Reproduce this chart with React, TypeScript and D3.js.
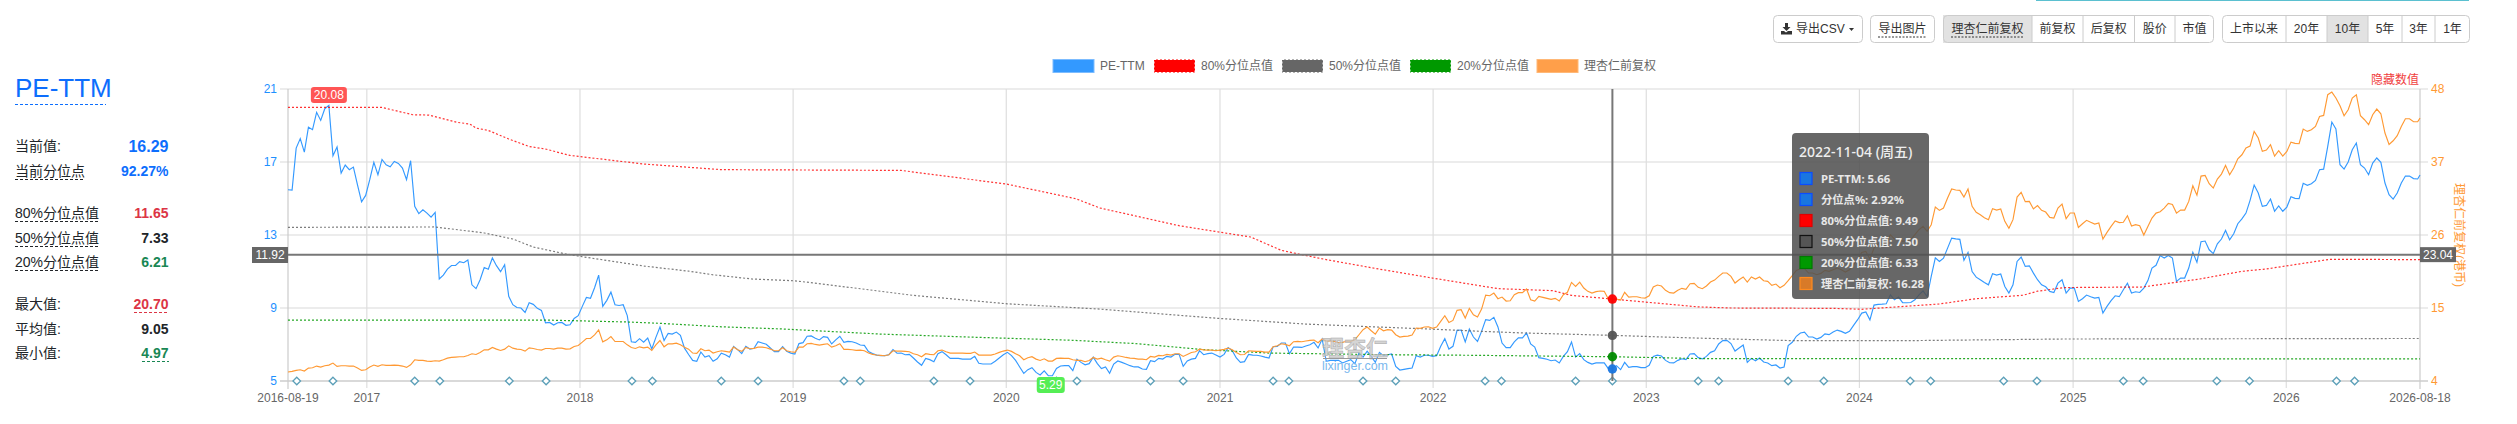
import React from 'react';
import * as d3 from 'd3';

// weekly samples, week 0 is 2016-08-19, last one is clamped to 2026-08-18
const peTtm = [
  15.48,15.46,17.76,18.28,17.54,18.91,18.77,19.72,19.28,19.92,
  20.10,17.34,17.82,16.39,16.83,16.58,16.72,15.75,14.82,15.17,
  16.03,16.98,16.30,17.14,16.85,16.74,17.03,16.92,16.67,16.03,
  17.07,14.57,14.17,14.38,14.20,13.98,14.24,10.59,10.80,11.13,
  11.33,11.33,11.54,11.48,11.63,10.27,10.06,10.55,11.22,11.12,
  11.74,11.32,10.99,11.37,9.64,9.18,9.03,9.00,8.76,9.29,
  9.20,8.98,8.87,8.19,8.21,8.07,8.19,8.21,8.05,8.08,
  8.43,8.58,9.09,9.58,9.53,10.11,10.80,9.09,9.42,9.87,
  9.18,9.14,9.18,8.58,7.15,7.12,7.32,7.13,7.35,6.75,
  7.39,7.96,7.22,7.61,7.57,7.68,7.50,6.80,6.45,
  6.13,6.08,6.59,6.31,6.39,6.08,6.22,6.52,6.44,6.31,
  6.90,6.72,6.50,6.90,6.75,6.79,7.15,7.08,7.01,6.81,
  6.61,6.61,6.88,6.63,6.53,6.48,7.05,7.10,7.45,7.47,
  7.34,7.25,7.43,7.39,7.03,7.25,7.45,7.12,7.17,7.15,
  7.08,6.97,6.95,6.61,6.50,6.42,6.39,6.39,6.44,6.72,
  6.52,6.53,6.44,6.46,6.26,6.04,5.86,6.24,6.17,6.06,
  6.50,6.61,6.44,6.24,6.24,6.24,6.20,6.20,6.20,6.35,
  5.97,5.93,5.93,5.93,6.08,6.26,6.44,6.57,6.39,6.13,
  5.77,5.42,5.62,5.73,5.47,5.33,5.55,5.29,5.29,5.69,
  5.82,5.84,5.84,5.57,6.20,
  6.02,5.89,5.95,6.31,5.95,5.68,5.77,5.42,5.93,6.10,
  6.02,5.93,5.84,5.77,5.77,5.66,5.64,6.11,6.06,6.24,
  6.20,6.35,6.31,6.46,6.46,5.80,6.10,6.20,6.24,6.66,
  6.44,6.50,6.53,6.42,6.31,6.46,6.83,6.66,6.26,6.02,
  6.06,6.46,6.42,6.41,6.37,6.31,6.26,6.88,6.90,7.08,
  7.08,6.50,6.86,6.86,6.84,6.92,6.99,7.12,6.81,7.30,
  6.08,6.13,6.13,6.13,5.99,6.08,6.17,5.95,6.53,6.31,
  6.63,6.35,6.02,6.57,6.39,6.44,6.48,5.80,5.60,5.64,
  5.68,5.71,6.39,6.31,6.41,6.41,6.35,6.39,6.90,7.32,
  6.75,6.90,7.78,7.79,7.14,7.85,
  7.41,7.17,7.72,8.36,8.32,8.49,7.96,7.08,6.83,6.83,
  7.14,7.36,7.36,7.63,7.03,6.86,6.28,6.24,6.19,6.11,
  6.15,5.99,6.35,6.61,7.14,6.31,6.50,6.17,6.02,5.93,
  5.99,6.00,5.99,5.68,5.66,5.84,5.62,6.02,5.75,5.79,
  5.79,5.73,5.73,5.86,6.35,6.42,6.37,6.13,6.00,5.99,
  6.13,6.22,6.17,6.48,6.50,6.28,6.21,6.35,6.57,6.66,
  7.03,7.21,7.23,7.05,6.64,6.81,6.97,6.02,6.24,6.11,
  6.26,6.04,5.99,5.84,5.88,5.71,5.77,6.94,7.12,7.45,
  7.63,7.68,7.41,7.41,7.30,7.39,7.58,7.54,7.68,7.79,
  7.72,7.61,7.72,8.05,8.36,
  8.72,8.78,8.35,9.16,9.20,9.21,9.23,9.72,9.45,9.60,
  9.29,9.29,9.30,9.45,9.72,9.94,9.63,10.73,11.75,11.55,
  11.73,12.28,12.83,12.79,12.76,11.61,12.04,11.00,10.69,10.55,
  10.40,10.27,10.88,10.80,10.86,10.18,9.82,10.27,11.55,11.79,
  11.28,11.31,10.91,10.55,10.27,10.16,9.91,9.85,10.36,10.55,
  9.82,10.09,10.09,9.36,9.51,9.71,9.62,9.54,9.58,8.72,
  9.09,9.40,9.67,9.62,10.00,10.36,9.82,9.89,9.85,10.09,
  10.50,
  11.19,11.34,11.87,11.74,11.88,11.74,10.46,10.64,10.64,11.19,
  12.05,11.50,12.63,12.67,12.19,11.98,12.52,12.78,13.25,12.74,
  13.07,13.62,13.88,14.20,14.90,15.74,15.30,14.57,14.62,14.97,
  14.30,14.59,14.30,14.53,15.10,15.01,14.99,15.83,15.72,15.81,
  15.99,16.58,16.61,17.86,19.19,18.81,16.85,16.61,17.00,17.67,
  18.04,16.85,16.67,16.30,16.94,17.22,16.98,15.85,15.21,14.97,
  15.30,15.85,16.23,16.23,16.09,16.07,16.29,
];

const lxrPrice = [
  5.35,5.45,5.60,5.70,5.50,5.95,6.00,6.25,6.10,6.30,
  6.40,6.70,6.20,6.30,6.30,6.25,6.25,5.95,5.60,5.70,
  6.10,6.40,6.20,6.45,6.35,6.35,6.40,6.35,6.25,6.05,
  6.45,7.20,7.10,7.10,7.00,6.95,7.05,7.00,7.20,7.45,
  7.55,7.60,7.65,7.65,7.85,8.10,8.00,8.30,8.70,8.70,
  9.05,8.80,8.60,8.80,9.30,8.95,8.80,8.75,8.50,9.00,
  8.90,8.75,8.65,8.90,8.90,8.80,8.95,8.95,8.80,8.85,
  9.20,9.35,9.85,10.40,10.40,10.95,11.70,9.90,10.20,10.70,
  9.95,9.95,9.95,9.45,9.05,8.90,9.15,9.00,9.10,8.60,
  9.45,10.10,9.15,9.60,9.60,9.70,9.45,9.10,8.80,
  8.21,8.16,8.86,8.56,8.66,8.21,8.41,8.56,8.46,8.36,
  9.11,8.71,8.46,9.06,8.86,8.91,9.11,9.11,9.01,8.81,
  8.56,8.56,9.01,8.56,8.41,8.31,9.11,9.11,9.61,9.66,
  9.51,9.41,9.51,9.61,9.11,9.31,9.61,8.76,8.76,8.71,
  8.61,8.66,8.56,8.21,8.01,7.91,7.86,7.81,7.96,8.56,
  8.51,8.51,8.46,8.41,8.11,7.96,7.66,8.11,8.01,7.96,
  8.56,8.66,8.41,8.21,8.21,8.21,8.21,8.16,8.16,8.36,
  7.91,7.91,7.91,7.91,8.06,8.31,8.51,8.66,8.46,8.11,
  7.81,7.21,7.50,7.66,7.30,7.10,7.35,7.00,7.00,7.40,
  7.45,7.40,7.40,7.21,7.10,
  7.10,6.90,7.10,7.55,7.30,7.45,7.20,7.00,7.60,7.80,
  7.70,7.55,7.45,7.40,7.30,7.30,7.20,7.70,7.60,7.85,
  7.80,8.00,7.90,8.10,8.10,7.70,8.00,8.30,8.40,8.80,
  8.70,8.66,8.66,8.56,8.66,8.76,8.96,8.70,8.30,7.95,
  8.00,8.56,8.51,8.46,8.46,8.36,8.36,9.16,9.31,9.61,
  9.51,9.31,9.92,9.97,9.92,10.02,10.12,10.17,9.77,10.32,
  10.02,10.02,9.97,9.77,9.82,10.02,9.97,10.22,10.97,11.73,
  12.13,11.57,11.07,11.98,11.57,11.73,11.67,10.97,10.62,10.72,
  10.77,10.92,11.98,11.93,12.13,12.18,11.93,12.13,12.98,13.84,
  12.83,13.13,14.64,14.74,13.49,14.94,
  13.99,13.64,14.84,16.95,16.85,17.25,16.40,16.65,16.05,16.10,
  17.00,17.31,17.31,17.86,16.25,16.05,16.75,16.60,16.45,16.30,
  16.45,16.05,17.00,17.36,18.86,18.26,18.91,18.01,17.51,17.25,
  17.46,17.56,17.51,16.35,16.28,16.35,16.20,17.36,16.65,16.70,
  16.70,16.55,16.50,16.85,18.16,18.46,18.31,17.66,17.31,17.25,
  17.66,17.96,17.81,18.66,18.71,18.11,17.91,18.31,18.91,19.21,
  19.77,20.27,20.27,19.77,18.76,19.26,19.67,18.91,19.67,19.37,
  19.67,19.11,19.01,18.41,18.61,18.06,18.41,19.11,19.87,20.67,
  20.92,20.92,20.27,20.27,20.02,20.22,20.67,20.52,20.77,21.02,
  20.77,20.42,20.77,21.53,22.28,
  23.38,23.53,22.38,24.04,24.64,24.64,24.79,26.05,25.39,25.54,
  25.04,25.19,25.29,26.05,26.80,27.30,26.55,27.55,30.22,29.71,
  30.07,31.57,32.93,32.78,32.73,31.72,32.93,30.32,29.41,29.06,
  28.61,28.31,29.97,29.76,29.92,28.06,27.00,28.31,31.72,32.43,
  31.02,31.07,29.92,30.42,29.71,29.46,28.66,28.56,30.07,30.67,
  28.46,29.31,29.31,27.15,27.70,28.21,27.91,27.65,27.80,25.39,
  26.40,27.30,28.11,27.86,27.91,28.91,27.35,27.55,27.40,26.00,
  27.29,
  28.55,29.30,29.50,30.05,30.76,30.61,29.30,29.75,29.75,31.06,
  33.42,32.01,34.88,34.98,33.72,33.07,34.43,35.18,36.49,35.08,
  36.08,37.49,38.09,39.10,39.40,41.61,40.61,38.60,38.80,39.60,
  37.89,38.70,37.89,38.60,40.00,39.80,39.75,41.96,41.61,41.86,
  42.36,43.87,44.02,47.14,47.54,46.64,45.48,43.97,44.88,46.64,
  47.14,43.97,43.37,42.62,44.12,44.98,44.27,41.36,39.65,40.20,
  40.96,42.36,43.52,43.52,43.07,43.07,43.62,
];

// percentile lines only change slope at a few places
const p80Weeks = [0,23,30.5,34.5,41.5,44.5,46,49,54,59,63,69,87,106,150,175.8,192.7,198.6,218,235.5,243,248,254,267,280,296,309.5,314,324,345,353,378,385,404,413,424.5,428,434.6,453.7,467.7,478,484,499.6,522];
const p80Values = [19.99,19.99,19.59,19.57,19.17,19.08,18.86,18.73,18.26,17.85,17.71,17.36,16.89,16.58,16.54,15.79,14.99,14.48,13.51,12.89,12.16,11.92,11.65,11.13,10.64,10.06,9.95,9.69,9.49,9.06,9.00,8.98,8.93,9.22,9.51,9.70,9.92,10.12,10.15,10.59,11.01,11.14,11.67,11.65];
const p50Weeks = [0,36,48,55,60,68,72,87,98,104,113.5,124,132,153,176,198.6,227.7,249,263,279,292,302.5,324,345,368,396,434,522];
const p50Values = [13.42,13.44,13.11,12.78,12.34,11.96,11.81,11.30,11.02,10.82,10.59,10.49,10.28,9.69,9.23,8.94,8.43,8.12,7.99,7.85,7.72,7.63,7.50,7.35,7.21,7.21,7.30,7.33];
const p20Weeks = [0,63,83.6,91,106,121,145,169,192,207.4,224,240,269,289,324,345,522];
const p20Values = [8.34,8.34,8.23,8.16,7.97,7.85,7.57,7.39,7.23,7.05,6.72,6.53,6.44,6.41,6.33,6.23,6.21];

const reportDates = [
  '2016-09-03','2016-11-04','2017-03-24','2017-05-06','2017-09-02','2017-11-04','2018-03-31','2018-05-05',
  '2018-08-31','2018-11-02','2019-03-29','2019-04-26','2019-08-30','2019-10-31','2020-03-27','2020-05-01',
  '2020-09-04','2020-10-30','2021-04-02','2021-04-29','2021-09-03','2021-10-29','2022-03-31','2022-04-28',
  '2022-09-02','2022-11-04','2023-03-31','2023-05-05','2023-09-01','2023-11-01','2024-03-28','2024-05-02',
  '2024-09-04','2024-10-31','2025-03-28','2025-05-01','2025-09-04','2025-10-30','2026-03-28','2026-04-28',
];

const leftTicks = [5, 9, 13, 17, 21];
const rightTicks = [4, 15, 26, 37, 48];
const legendLabels = ['PE-TTM', '80%分位点值', '50%分位点值', '20%分位点值', '理杏仁前复权'];
const legendColors = ['#3399ff', '#ff0000', '#666666', '#009900', '#ff9f4a'];
const tooltipLabels = ['PE-TTM: 5.66', '分位点%: 2.92%', '80%分位点值: 9.49', '50%分位点值: 7.50', '20%分位点值: 6.33', '理杏仁前复权: 16.28'];
const tooltipFill = ['#1976e0', '#1976e0', '#ff0000', '#555555', '#009900', '#d87a28'];
const tooltipStroke = ['#0a4cff', '#0a4cff', '#e00000', '#111111', '#007a00', '#ff8a1e'];
const statLabels = ['当前值:', '当前分位点', '80%分位点值', '50%分位点值', '20%分位点值', '最大值:', '平均值:', '最小值:'];
const statValues = ['16.29', '92.27%', '11.65', '7.33', '6.21', '20.70', '9.05', '4.97'];
const statColors = ['#0d6efd', '#0d6efd', '#dc3545', '#212529', '#198754', '#dc3545', '#212529', '#198754'];
const statRows = [146, 171, 213, 238, 262, 304, 329, 353];
const adjustLabels = ['理杏仁前复权', '前复权', '后复权', '股价', '市值'];
const adjustEdges = [1943, 2032, 2083, 2134.5, 2175, 2214];
const rangeLabels = ['上市以来', '20年', '10年', '5年', '3年', '1年'];
const rangeEdges = [2222, 2286, 2327, 2368, 2402, 2435, 2470];

const W = 2517;
const H = 424;
const SANS = '"Liberation Sans", "Noto Sans CJK SC", sans-serif';
const TIP_FONT = '"Noto Sans", "Noto Sans CJK SC", sans-serif';

const startDate = new Date(2016, 7, 19);
const endDate = new Date(2026, 7, 18);
const weekDate = (w: number) => {
  const d = d3.timeHour.offset(startDate, Math.round(w * 168));
  return d > endDate ? endDate : d;
};

const x = d3.scaleTime().domain([startDate, endDate]).range([288, 2420]);
const yLeft = d3.scaleLinear().domain([5, 21]).range([381, 89]);
const yRight = d3.scaleLinear().domain([4, 48]).range([381, 89]);

const lineLeft = d3.line<number>().x((_, i) => x(weekDate(i))).y(d => yLeft(d));
const lineRight = d3.line<number>().x((_, i) => x(weekDate(i))).y(d => yRight(d));
const knotLine = (weeks: number[], values: number[]) =>
  d3.line<number>().x((_, i) => x(weekDate(weeks[i]))).y(d => yLeft(d))(values) || '';

const HOVER_WEEK = 324;
const hoverLeft = 11.92;
const hoverRight = 23.04;
const maxWeek = 10;
const minWeek = 186.6;

const ButtonGroup: React.FC<{ labels: string[]; edges: number[]; active: number; dashed?: number }> = ({ labels, edges, active, dashed }) => (
  <g fontFamily={SANS} fontSize={12} fill="#333">
    {labels.map((l, i) => (
      <g key={l}>
        {i === active && <rect x={edges[i]} y={15} width={edges[i + 1] - edges[i]} height={28} fill="#e2e2e2" />}
        {i > 0 && <line x1={edges[i]} x2={edges[i]} y1={15} y2={43} stroke="#ccc" />}
        <text x={(edges[i] + edges[i + 1]) / 2} y={29} dy="0.35em" textAnchor="middle">{l}</text>
        {dashed === i && (
          <line x1={edges[i] + 8} x2={edges[i + 1] - 8} y1={37} y2={37} stroke="#333" strokeDasharray="2,1.5" />
        )}
      </g>
    ))}
    <rect x={edges[0] + 0.5} y={15.5} width={edges[edges.length - 1] - edges[0] - 1} height={27} rx={4} fill="none" stroke="#ccc" />
  </g>
);

export default function App() {
  const hx = x(weekDate(HOVER_WEEK));
  const years = d3.timeYear.range(d3.timeYear.ceil(startDate), endDate);
  const dots: [number, string][] = [
    [p80Values[p80Weeks.indexOf(HOVER_WEEK)], '#ff0000'],
    [p50Values[p50Weeks.indexOf(HOVER_WEEK)], '#555555'],
    [p20Values[p20Weeks.indexOf(HOVER_WEEK)], '#008a00'],
    [peTtm[HOVER_WEEK], '#1976e0'],
  ];
  const legendX = [1053, 1154, 1282, 1410, 1537];

  return (
    <svg width={W} height={H} viewBox={`0 0 ${W} ${H}`} style={{ position: 'absolute', left: 0, top: 0, background: '#fff' }}>
      {/* left stats panel */}
      <text x={15} y={97} fontFamily={SANS} fontSize={26} fill="#0d6efd">PE-TTM</text>
      <line x1={15} x2={106} y1={104.5} y2={104.5} stroke="#0d6efd" strokeDasharray="3,2" />
      {statLabels.map((l, i) => (
        <g key={l}>
          <text x={15} y={statRows[i]} dy="0.35em" fontFamily={SANS} fontSize={14} fill="#212529">{l}</text>
          <text x={168.5} y={statRows[i]} dy="0.35em" textAnchor="end" fontFamily={SANS} fontWeight="bold" fontSize={i === 0 ? 16 : 14} fill={statColors[i]}>{statValues[i]}</text>
        </g>
      ))}
      {[1, 2, 3, 4].map(i => (
        <line key={i} x1={15} x2={i === 1 ? 85 : 99} y1={statRows[i] + 8.5} y2={statRows[i] + 8.5} stroke="#212529" strokeDasharray="3,2" />
      ))}
      <line x1={134} x2={169} y1={312.5} y2={312.5} stroke="#dc3545" strokeDasharray="3,2" />
      <line x1={142} x2={169} y1={361.5} y2={361.5} stroke="#198754" strokeDasharray="3,2" />

      {/* toolbar */}
      <rect x={2036} y={0} width={433} height={1} fill="#5bc0d0" />
      <g fontFamily={SANS} fontSize={12} fill="#333">
        <rect x={1773.5} y={15.5} width={89} height={27} rx={4} fill="#fff" stroke="#ccc" />
        <path d="M1785 23h3v4h2.5l-4 4-4-4h2.5zM1781 31h3l2 1.5 2-1.5h4v3.5h-11z" fill="#333" />
        <text x={1796} y={29} dy="0.35em">导出CSV</text>
        <path d="M1849 28h5l-2.5 3z" fill="#333" />
        <rect x={1870.5} y={15.5} width={64} height={27} rx={4} fill="#fff" stroke="#ccc" />
        <text x={1902.5} y={29} dy="0.35em" textAnchor="middle">导出图片</text>
        <line x1={1878} x2={1927} y1={37} y2={37} stroke="#333" strokeDasharray="2,1.5" />
      </g>
      <ButtonGroup labels={adjustLabels} edges={adjustEdges} active={0} dashed={0} />
      <ButtonGroup labels={rangeLabels} edges={rangeEdges} active={2} />

      {/* legend */}
      <g fontFamily={SANS} fontSize={12} fill="#666">
        {legendLabels.map((l, i) => (
          <g key={l}>
            <rect x={legendX[i]} y={59.5} width={41} height={13} fill={legendColors[i]}
              stroke={i >= 1 && i <= 3 ? '#fff' : i === 0 ? '#7cbcff' : '#ffb877'} strokeDasharray={i >= 1 && i <= 3 ? '2,2' : undefined} />
            <text x={legendX[i] + 47} y={66} dy="0.35em">{l}</text>
          </g>
        ))}
      </g>

      {/* grid */}
      <g stroke="#e6e6e6" strokeWidth={1.5}>
        {leftTicks.slice(1).map(t => (
          <line key={t} x1={280} x2={2428} y1={yLeft(t)} y2={yLeft(t)} />
        ))}
      </g>
      <g stroke="#dedede" strokeWidth={1.2}>
        {years.map(d => (
          <line key={d.getFullYear()} x1={x(d)} x2={x(d)} y1={89} y2={388} />
        ))}
      </g>
      <line x1={280} x2={2428} y1={381} y2={381} stroke="#ccc" strokeWidth={1.5} />
      <line x1={288} x2={288} y1={89} y2={389} stroke="#ccc" strokeWidth={1.2} />
      <line x1={2420} x2={2420} y1={89} y2={389} stroke="#ccc" strokeWidth={1.2} />

      {/* axis labels */}
      <g fontFamily={SANS} fontSize={12}>
        {leftTicks.map(t => (
          <text key={t} x={277} y={yLeft(t)} dy="0.3em" textAnchor="end" fill="#1e90ff">{t}</text>
        ))}
        {rightTicks.map(t => (
          <text key={t} x={2431} y={yRight(t)} dy="0.3em" fill="#ff9933">{t}</text>
        ))}
        <text x={288} y={398} dy="0.35em" textAnchor="middle" fill="#666">2016-08-19</text>
        {years.map(d => (
          <text key={d.getFullYear()} x={x(d)} y={398} dy="0.35em" textAnchor="middle" fill="#666">{d3.timeFormat('%Y')(d)}</text>
        ))}
        <text x={2420} y={398} dy="0.35em" textAnchor="middle" fill="#666">2026-08-18</text>
        <text x={2419} y={80} dy="0.35em" textAnchor="end" fill="#f04040">隐藏数值</text>
        <text transform="translate(2459,235) rotate(90)" dy="0.35em" textAnchor="middle" fill="#ff9933">理杏仁前复权(港币)</text>
      </g>

      {/* series */}
      <path d={lineLeft(peTtm) || ''} fill="none" stroke="#3399ff" strokeWidth={1.15} />
      <path d={knotLine(p80Weeks, p80Values)} fill="none" stroke="#ff0000" strokeOpacity={0.8} strokeWidth={1.2} strokeDasharray="2,2" />
      <path d={knotLine(p50Weeks, p50Values)} fill="none" stroke="#666" strokeOpacity={0.85} strokeWidth={1.2} strokeDasharray="2,2" />
      <path d={knotLine(p20Weeks, p20Values)} fill="none" stroke="#009900" strokeOpacity={0.85} strokeWidth={1.2} strokeDasharray="2,2" />
      <path d={lineRight(lxrPrice) || ''} fill="none" stroke="#ff9933" strokeWidth={1.15} />

      {/* watermark */}
      <g textAnchor="middle">
        <text x={1355} y={356} fontFamily={SANS} fontSize={22} fontWeight="bold" fill="#c8c8c8" fillOpacity={0.75} stroke="#a8a8a8" strokeWidth={0.5}>理杏仁</text>
        <line x1={1323} x2={1387} y1={358.5} y2={358.5} stroke="#999" />
        <text x={1355} y={370} fontFamily={SANS} fontSize={12.5} fill="#7ab8ee">lixinger.com</text>
      </g>

      {/* report date markers */}
      {reportDates.map(d => {
        const cx = x(new Date(d + 'T00:00:00'));
        return (
          <path key={d} d={`M${cx} 377.2L${cx + 3.8} 381L${cx} 384.8L${cx - 3.8} 381Z`} fill="#fff" stroke="#5b9fb8" strokeWidth={1.3} />
        );
      })}

      {/* crosshair */}
      <line x1={288} x2={2420} y1={yLeft(hoverLeft)} y2={yLeft(hoverLeft)} stroke="#777" strokeWidth={2} />
      <line x1={hx} x2={hx} y1={89} y2={381} stroke="#777" strokeWidth={2} />
      {dots.map(([v, c]) => (
        <circle key={c} cx={hx} cy={yLeft(v)} r={4.7} fill={c} fillOpacity={0.95} />
      ))}
      <rect x={252} y={247} width={36} height={16} fill="#666" />
      <text x={270} y={255} dy="0.35em" textAnchor="middle" fontFamily={SANS} fontSize={12} fill="#fff">{hoverLeft}</text>
      <rect x={2420} y={yRight(hoverRight) - 7.5} width={36} height={15} fill="#666" />
      <text x={2438} y={yRight(hoverRight)} dy="0.35em" textAnchor="middle" fontFamily={SANS} fontSize={12} fill="#fff">{hoverRight}</text>

      {/* max and min labels */}
      <rect x={x(weekDate(maxWeek)) - 18} y={87} width={36} height={16} rx={3} fill="#ff5555" />
      <text x={x(weekDate(maxWeek))} y={95} dy="0.35em" textAnchor="middle" fontFamily={SANS} fontSize={12} fill="#fff">20.08</text>
      <rect x={x(weekDate(minWeek)) - 14} y={377} width={28} height={16} rx={3} fill="#55ee55" />
      <text x={x(weekDate(minWeek))} y={385} dy="0.35em" textAnchor="middle" fontFamily={SANS} fontSize={12} fill="#fff">5.29</text>

      {/* tooltip */}
      <rect x={1792} y={133} width={137} height={166} rx={4} fill="#505050" fillOpacity={0.87} />
      <text x={1799} y={152} dy="0.35em" fontFamily={TIP_FONT} fontSize={14} fontWeight={500} fill="#eee">2022-11-04 (周五)</text>
      {tooltipLabels.map((l, i) => {
        const rowY = 179 + i * 21;
        return (
          <g key={l}>
            <rect x={1800} y={rowY - 6.5} width={12} height={12} fill={tooltipFill[i]} stroke={tooltipStroke[i]} strokeWidth={1.2} />
            <text x={1821} y={rowY} dy="0.35em" fontFamily={TIP_FONT} fontSize={11.3} fontWeight={700} fill="#e8e8e8">{l}</text>
          </g>
        );
      })}
    </svg>
  );
}
